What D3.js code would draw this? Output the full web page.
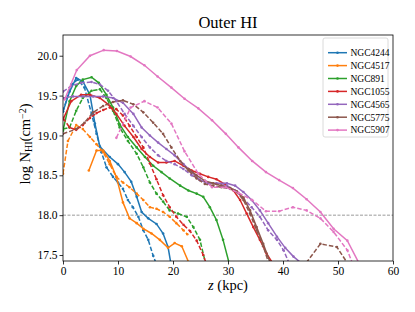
<!DOCTYPE html>
<html>
<head>
<meta charset="utf-8">
<script src="https://cdn.jsdelivr.net/npm/d3@7"></script>
<style>
  body { margin: 0; background: #fff; }
  svg { font-family: "Liberation Serif", "DejaVu Serif", serif; }
</style>
</head>
<body>
<div class="container"></div>
<script>
const names = ["NGC4244", "NGC4517", "NGC891", "NGC1055", "NGC4565", "NGC5775", "NGC5907"];
const colors = ["#1f77b4", "#ff7f0e", "#2ca02c", "#d62728", "#9467bd", "#8c564b", "#e377c2"];
const xTicks = [0, 10, 20, 30, 40, 50, 60];
const yTicks = [17.5, 18.0, 18.5, 19.0, 19.5, 20.0];

// solid = one side of the disk, dashed = the other
const n4244_z = [0, 1.2, 2.4, 3.6, 4.9, 5.8, 6.7, 8.5, 10, 11.2, 12.4, 13.4, 14.3, 15.5, 17, 18.2, 19.1, 19.6];
const n4244_n = [19.3, 19.55, 19.72, 19.68, 19.51, 19.15, 18.86, 18.73, 18.64, 18.54, 18.42, 18.23, 18.04, 17.96, 17.89, 17.77, 17.6, 17.4];
const n4244_zd = [0, 1.5, 2.7, 3.9, 5.2, 6.1, 7, 7.9, 9.1, 10, 10.9, 11.8, 12.7, 13.7, 14.6, 15.5, 16.4, 16.9];
const n4244_nd = [19.3, 19.64, 19.7, 19.6, 19.27, 19.02, 18.79, 18.6, 18.48, 18.41, 18.33, 18.19, 18.1, 17.98, 17.81, 17.69, 17.49, 17.4];

const n4517_z = [4.7, 6.1, 7.3, 8.5, 9.7, 10.9, 12.1, 13.4, 14.6, 16.1, 17.6, 19.1, 20.3, 21.6, 22.9];
const n4517_n = [18.56, 18.81, 18.81, 18.68, 18.48, 18.16, 17.96, 17.9, 17.83, 17.77, 17.69, 17.59, 17.65, 17.61, 17.4];
const n4517_zd = [0, 0.9, 2.4, 3.6, 4.9, 6.1, 7.3, 8.5, 9.7, 10.9, 12.1, 13.4, 14.6, 15.8, 17, 18.2, 19.4, 20.6, 21.9, 22.6];
const n4517_nd = [18.52, 18.93, 19.13, 19.08, 18.98, 18.89, 18.79, 18.64, 18.48, 18.41, 18.35, 18.27, 18.19, 18.1, 18.08, 18.04, 17.98, 17.9, 17.81, 17.76];

const n891_z = [0, 1.2, 2.4, 3.6, 5.2, 6.5, 7.9, 9.1, 10.3, 11.8, 13.4, 14.9, 16.4, 17.9, 19.4, 21.3, 22.8, 24.3, 25.5, 26.7, 27.9, 29.1, 30.2];
const n891_n = [19.06, 19.43, 19.62, 19.7, 19.73, 19.66, 19.51, 19.35, 19.14, 18.98, 18.85, 18.73, 18.62, 18.54, 18.46, 18.37, 18.31, 18.27, 18.23, 18.1, 17.94, 17.69, 17.4];
const n891_zd = [0, 1.2, 2.4, 3.6, 5.2, 6.7, 7.9, 9.1, 10.3, 11.8, 13.4, 14.6, 15.8, 17, 18.2, 19.4, 20.9, 22.5, 23.7, 24.9, 25.9];
const n891_nd = [19.08, 19.1, 19.31, 19.47, 19.56, 19.58, 19.47, 19.31, 19.1, 18.93, 18.77, 18.6, 18.41, 18.27, 18.17, 18.06, 18.02, 17.98, 17.85, 17.69, 17.4];

const n1055_z = [0, 1.5, 3.3, 4.9, 6.7, 8.2, 9.7, 11.2, 12.8, 14.3, 15.8, 17.3, 18.8, 20.3, 21.9, 23.4, 24.9, 26.4, 27.9, 29.4, 31, 32.2, 33.4, 34.6, 35.8, 37, 38.1];
const n1055_n = [19.2, 19.43, 19.51, 19.51, 19.47, 19.39, 19.27, 19.12, 18.98, 18.83, 18.73, 18.66, 18.66, 18.68, 18.62, 18.56, 18.52, 18.48, 18.45, 18.39, 18.31, 18.19, 18.02, 17.85, 17.69, 17.52, 17.4];
const n1055_zd = [0, 1.2, 2.4, 3.6, 4.9, 6.1, 7.3, 8.5, 9.7, 10.9, 12.1, 13.4, 14.6, 15.8, 17, 18.2, 19.4, 20.6, 21.9, 23.1, 24.3, 25.5, 26];
const n1055_nd = [19.22, 19.1, 19.07, 19.13, 19.22, 19.28, 19.32, 19.35, 19.33, 19.25, 19.12, 18.98, 18.85, 18.65, 18.45, 18.25, 18.1, 17.98, 17.88, 17.8, 17.68, 17.5, 17.4];

const n4565_z = [0, 1.8, 3.6, 5.5, 7.3, 9.1, 10.9, 12.8, 14.3, 15.8, 17.3, 18.8, 20.3, 21.9, 23.4, 24.9, 26.4, 27.9, 29.8, 31.3, 32.8, 34.3, 35.8, 37.3, 38.9, 40.4, 41.9, 43.3];
const n4565_n = [19.47, 19.49, 19.49, 19.49, 19.49, 19.47, 19.41, 19.27, 19.1, 19.0, 18.91, 18.83, 18.75, 18.64, 18.54, 18.44, 18.4, 18.4, 18.4, 18.37, 18.29, 18.19, 18.06, 17.9, 17.73, 17.59, 17.48, 17.4];
const n4565_zd = [0, 1.5, 3.3, 5.2, 6.7, 8.2, 9.7, 11.2, 12.8, 14.3, 15.8, 17.3, 18.8, 20.3, 21.9, 23.4, 24.9, 26.4, 27.9, 29.8, 31.3, 32.8, 34.3, 35.8, 37.3, 38.9, 40.1, 41.1];
const n4565_nd = [19.55, 19.62, 19.66, 19.67, 19.64, 19.56, 19.43, 19.27, 19.12, 18.98, 18.85, 18.75, 18.68, 18.64, 18.58, 18.5, 18.44, 18.4, 18.39, 18.37, 18.31, 18.21, 18.1, 17.98, 17.81, 17.69, 17.56, 17.4];

const n5775_z = [22.8, 24.3, 25.8, 27.3, 28.8, 30.4, 31.6, 32.8, 34, 35.2, 36.4, 37.7];
const n5775_n = [18.58, 18.5, 18.43, 18.4, 18.37, 18.34, 18.3, 18.22, 18.06, 17.85, 17.64, 17.4];
const n5775_zd = [0, 2.4, 3.9, 5.5, 7.3, 9.1, 10.9, 12.8, 14.6, 16.4, 18.2, 19.7, 21.3, 22.8, 24.3, 25.8, 27.3, 28.8, 30.4, 31.6, 32.8, 34, 35.2, 36.4, 37.4, null, 44.2, 46.8, 49.8, 51.7];
const n5775_nd = [19.02, 19.08, 19.16, 19.29, 19.37, 19.42, 19.44, 19.39, 19.29, 19.16, 19.02, 18.85, 18.68, 18.56, 18.46, 18.39, 18.37, 18.35, 18.33, 18.29, 18.19, 18.02, 17.81, 17.61, 17.4, null, 17.4, 17.64, 17.6, 17.4];

const n5907_z = [0.3, 2.5, 4.9, 7.4, 9.8, 12.3, 14.8, 17.2, 19.7, 22.1, 24.6, 27.1, 29.6, 31.9, 34.4, 36.9, 39.3, 41.8, 44.3, 46.8, 49.2, 51.7, 53.8];
const n5907_n = [19.45, 19.82, 20.0, 20.07, 20.06, 19.99, 19.88, 19.74, 19.6, 19.46, 19.34, 19.19, 19.02, 18.85, 18.68, 18.54, 18.44, 18.34, 18.2, 18.04, 17.83, 17.68, 17.4];
const n5907_zd = [9.7, 12.3, 14.8, 17.2, 19.7, 22.1, 24.6, 27.1, 29.6, 31.9, 34.4, 36.9, 39.3, 41.8, 44.3, 46.8, 49.2, 51.7, 52.6];
const n5907_nd = [18.97, 19.35, 19.43, 19.35, 19.15, 18.8, 18.52, 18.35, 18.35, 18.28, 18.19, 18.05, 18.05, 18.1, 18.06, 17.96, 17.79, 17.56, 17.4];

const series = [
  [n4244_z, n4244_n, n4244_zd, n4244_nd],
  [n4517_z, n4517_n, n4517_zd, n4517_nd],
  [n891_z, n891_n, n891_zd, n891_nd],
  [n1055_z, n1055_n, n1055_zd, n1055_nd],
  [n4565_z, n4565_n, n4565_zd, n4565_nd],
  [n5775_z, n5775_n, n5775_zd, n5775_nd],
  [n5907_z, n5907_n, n5907_zd, n5907_nd]
];

const margin = { top: 35, right: 22, bottom: 51, left: 63 };
const width = 415, height = 312;
const w = width - margin.left - margin.right;
const h = height - margin.top - margin.bottom;

const x = d3.scaleLinear().domain([0, 60]).range([0, w]);
const y = d3.scaleLinear().domain([17.425, 20.26]).range([h, 0]);

const svg = d3.select(".container").append("svg")
  .attr("width", width)
  .attr("height", height);

svg.append("defs").append("clipPath").attr("id", "clip")
  .append("rect").attr("width", w).attr("height", h);

const g = svg.append("g").attr("transform", `translate(${margin.left},${margin.top})`);

g.append("line")
  .attr("x1", 0).attr("x2", w)
  .attr("y1", y(18)).attr("y2", y(18))
  .attr("stroke", "#808080").attr("stroke-width", 0.8)
  .attr("stroke-dasharray", "3,1.5");

const line = d3.line()
  .defined((d) => d[0] != null)
  .x((d) => x(d[0]))
  .y((d) => y(d[1]));

const plot = g.append("g").attr("clip-path", "url(#clip)");

series.forEach((s, i) => {
  [[s[0], s[1], null], [s[2], s[3], "4.5,2"]].forEach(([zs, ns, dash]) => {
    const pts = zs.map((z, k) => [z, ns[k]]);
    plot.append("path")
      .datum(pts)
      .attr("fill", "none")
      .attr("stroke", colors[i])
      .attr("stroke-width", 1.5)
      .attr("stroke-dasharray", dash)
      .attr("d", line);
    plot.selectAll(null)
      .data(pts.filter((d) => d[0] != null))
      .enter().append("circle")
      .attr("cx", (d) => x(d[0]))
      .attr("cy", (d) => y(d[1]))
      .attr("r", 1.3)
      .attr("fill", colors[i]);
  });
});

const xAxis = g.append("g")
  .attr("transform", `translate(0,${h})`)
  .call(d3.axisBottom(x).tickValues(xTicks).tickSize(3.5).tickPadding(2).tickFormat(d3.format("d")));
const yAxis = g.append("g")
  .call(d3.axisLeft(y).tickValues(yTicks).tickSize(3.5).tickPadding(2).tickFormat(d3.format(".1f")));

[xAxis, yAxis].forEach((a) => {
  a.select(".domain").remove();
  a.selectAll("line").attr("stroke", "#000").attr("stroke-width", 0.8);
  a.selectAll("text").attr("fill", "#000").style("font-family", "Liberation Serif").style("font-size", "11.5px");
});

g.append("rect")
  .attr("width", w).attr("height", h)
  .attr("fill", "none").attr("stroke", "#000").attr("stroke-width", 0.8);

svg.append("text")
  .attr("x", margin.left + w / 2).attr("y", 28)
  .attr("text-anchor", "middle")
  .style("font-size", "16.5px")
  .text("Outer HI");

const xl = svg.append("text")
  .attr("x", margin.left + w / 2).attr("y", 290)
  .attr("text-anchor", "middle")
  .style("font-size", "14.5px");
xl.append("tspan").style("font-style", "italic").text("z");
xl.append("tspan").text(" (kpc)");

const yl = svg.append("text")
  .attr("transform", `translate(30,${margin.top + h / 2 - 4}) rotate(-90)`)
  .attr("text-anchor", "middle")
  .style("font-size", "14.5px");
yl.append("tspan").text("log N");
yl.append("tspan").attr("baseline-shift", "-20%").style("font-size", "10px").text("HI");
yl.append("tspan").text("(cm");
yl.append("tspan").attr("baseline-shift", "40%").style("font-size", "10px").text("\u22122");
yl.append("tspan").text(")");

const legend = svg.append("g").attr("transform", "translate(323,38)");
legend.append("rect")
  .attr("width", 65).attr("height", 99).attr("rx", 2)
  .attr("fill", "#fff").attr("fill-opacity", 0.8)
  .attr("stroke", "#d0d0d0").attr("stroke-width", 0.8);

names.forEach((n, i) => {
  const row = legend.append("g").attr("transform", `translate(0,${14.7 + i * 12.9})`);
  row.append("line")
    .attr("x1", 5).attr("x2", 24)
    .attr("stroke", colors[i]).attr("stroke-width", 1.5);
  row.append("circle").attr("cx", 14.5).attr("r", 1.3).attr("fill", colors[i]);
  row.append("text")
    .attr("x", 27.5).attr("dy", "0.35em")
    .style("font-size", "9.5px")
    .text(n);
});
</script>
</body>
</html>
